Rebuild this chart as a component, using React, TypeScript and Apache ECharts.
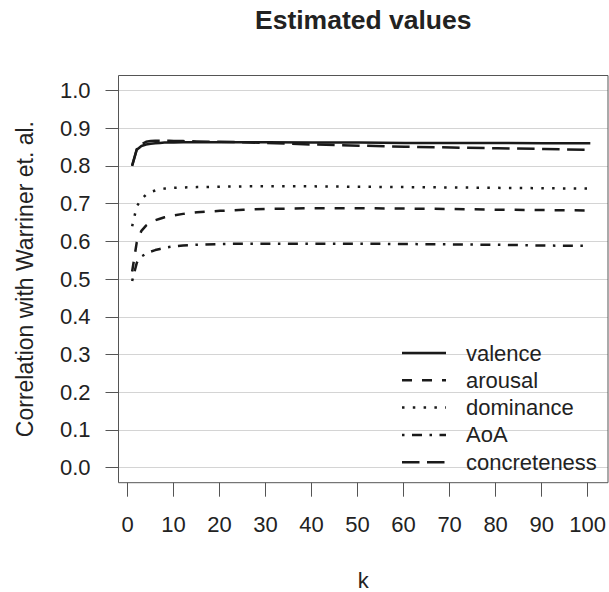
import React, { useEffect, useRef } from "react";
import * as echarts from "echarts";

const kValues = [1, 2, 3, 4, 5, 6, 7, 8, 9, 10, 12, 15, 20, 25, 30, 40, 50, 60, 70, 80, 90, 100];
const valence = [0.800, 0.843, 0.853, 0.857, 0.859, 0.860, 0.861, 0.862, 0.862, 0.862, 0.863, 0.863, 0.863, 0.863, 0.863, 0.862, 0.862, 0.861, 0.861, 0.861, 0.860, 0.860];
const arousal = [0.520, 0.598, 0.628, 0.642, 0.650, 0.656, 0.660, 0.664, 0.667, 0.669, 0.673, 0.677, 0.681, 0.684, 0.686, 0.688, 0.688, 0.687, 0.686, 0.684, 0.683, 0.682];
const dominance = [0.640, 0.693, 0.712, 0.724, 0.731, 0.735, 0.738, 0.740, 0.741, 0.742, 0.743, 0.744, 0.745, 0.746, 0.746, 0.746, 0.745, 0.744, 0.743, 0.742, 0.741, 0.740];
const aoa = [0.495, 0.543, 0.560, 0.567, 0.573, 0.577, 0.580, 0.583, 0.585, 0.587, 0.589, 0.591, 0.593, 0.594, 0.594, 0.594, 0.594, 0.593, 0.592, 0.591, 0.589, 0.588];
const concreteness = [0.802, 0.845, 0.858, 0.864, 0.866, 0.867, 0.867, 0.867, 0.867, 0.866, 0.866, 0.865, 0.864, 0.863, 0.861, 0.857, 0.854, 0.851, 0.849, 0.847, 0.845, 0.843];

const seriesNames = ["valence", "arousal", "dominance", "AoA", "concreteness"];
const seriesValues = [valence, arousal, dominance, aoa, concreteness];
const title = "Estimated values";
const yAxisTitle = "Correlation with Warriner et. al.";
const xAxisTitle = "k";

const FONT = "'Liberation Sans', Arial, Helvetica, sans-serif";
const INK = "#1a1a1a";
const TEXT = "#222";
const FS = 22;
const dashes: (number[] | "solid")[] = ["solid", [10, 10], [2.5, 8.3], [2.5, 7.5, 10, 7.5], [17.5, 7.5]];

// layout
const W = 609;
const H = 592;
const boxLeft = 118.5;
const boxWidth = 489.5;
const boxTop = 75.5;
const boxHeight = 407.2;
const xMin = -1.95;
const xMax = 103.82;
const yMin = -0.04;
const yMax = 1.04;

export default function App() {
  const ref = useRef<HTMLDivElement>(null);
  useEffect(() => {
    if (!ref.current) return;
    const chart = echarts.init(ref.current, undefined, { renderer: "svg" });

    const pxX = (v: number) => boxLeft + ((v - xMin) / (xMax - xMin)) * boxWidth;
    const pxY = (v: number) => boxTop + ((yMax - v) / (yMax - yMin)) * boxHeight;
    const x0 = pxX(0), x100 = pxX(100);
    const y1 = pxY(1), y0 = pxY(0);

    const legendTop = 353;
    const legendStep = 27.3;
    const legendGraphics: any[] = [];
    seriesNames.forEach((name, i) => {
      const y = legendTop + i * legendStep;
      const d = dashes[i];
      legendGraphics.push({
        type: "line",
        shape: { x1: 402, y1: y, x2: 446, y2: y },
        style: {
          stroke: INK,
          lineWidth: 2.5,
          lineDash: d === "solid" ? null : d,
          lineCap: "butt",
        },
        z: 10,
      });
      legendGraphics.push({
        type: "text",
        x: 466,
        y: y,
        style: {
          text: name,
          font: `${FS}px ${FONT}`,
          fill: TEXT,
          textAlign: "left",
          textVerticalAlign: "middle",
        },
        z: 10,
      });
    });

    chart.setOption({
      animation: false,
      backgroundColor: "#fff",
      grid: [
        {
          left: boxLeft, top: boxTop, width: boxWidth, height: boxHeight,
          show: true, borderColor: "#555", borderWidth: 1, backgroundColor: "transparent", z: 5,
        },
        { left: boxLeft, top: y1, width: boxWidth, height: y0 - y1 },
        { left: x0, top: boxTop, width: x100 - x0, height: boxHeight },
      ],
      xAxis: [
        { type: "value", gridIndex: 0, min: xMin, max: xMax, show: false },
        { type: "value", gridIndex: 1, min: 0, max: 1, show: false },
        {
          type: "value", gridIndex: 2, min: 0, max: 100, interval: 10, position: "bottom",
          axisLine: { show: false },
          axisTick: { show: true, inside: false, length: 14, lineStyle: { color: "#555", width: 1 } },
          axisLabel: { color: TEXT, fontSize: FS, fontFamily: FONT, margin: 31 },
          splitLine: { show: false },
        },
      ],
      yAxis: [
        { type: "value", gridIndex: 0, min: yMin, max: yMax, show: false },
        {
          type: "value", gridIndex: 1, min: 0, max: 1, interval: 0.1, position: "left",
          axisLine: { show: false },
          axisTick: { show: true, inside: false, length: 13, lineStyle: { color: "#555", width: 1 } },
          axisLabel: {
            color: TEXT, fontSize: FS, fontFamily: FONT, margin: 28,
            formatter: (v: number) => v.toFixed(1),
          },
          splitLine: { show: true, lineStyle: { color: "#d4d4d4", width: 1 } },
        },
        { type: "value", gridIndex: 2, min: 0, max: 1, show: false },
      ],
      series: seriesNames.map((name, i) => ({
        name,
        type: "line",
        xAxisIndex: 0,
        yAxisIndex: 0,
        data: kValues.map((k, j) => [k, seriesValues[i][j]]),
        symbol: "none",
        smooth: false,
        z: 3,
        lineStyle: {
          color: INK,
          width: 2.5,
          type: dashes[i] === "solid" ? "solid" : dashes[i],
          cap: "butt",
          join: "round",
        },
      })),
      graphic: [
        {
          type: "text",
          x: (boxLeft + boxLeft + boxWidth) / 2,
          y: 20,
          style: {
            text: title,
            font: `bold 26.5px ${FONT}`,
            fill: TEXT,
            textAlign: "center",
            textVerticalAlign: "middle",
          },
        },
        {
          type: "text",
          x: 25,
          y: boxTop + boxHeight / 2,
          rotation: Math.PI / 2,
          style: {
            text: yAxisTitle,
            font: `23px ${FONT}`,
            fill: TEXT,
            textAlign: "center",
            textVerticalAlign: "middle",
          },
        },
        {
          type: "text",
          x: (boxLeft + boxLeft + boxWidth) / 2,
          y: 580,
          style: {
            text: xAxisTitle,
            font: `${FS}px ${FONT}`,
            fill: TEXT,
            textAlign: "center",
            textVerticalAlign: "middle",
          },
        },
        ...legendGraphics,
      ],
    });
    return () => chart.dispose();
  }, []);

  return (
    <div
      ref={ref}
      style={{ position: "fixed", left: 0, top: 0, width: W, height: H, background: "#fff" }}
    />
  );
}
